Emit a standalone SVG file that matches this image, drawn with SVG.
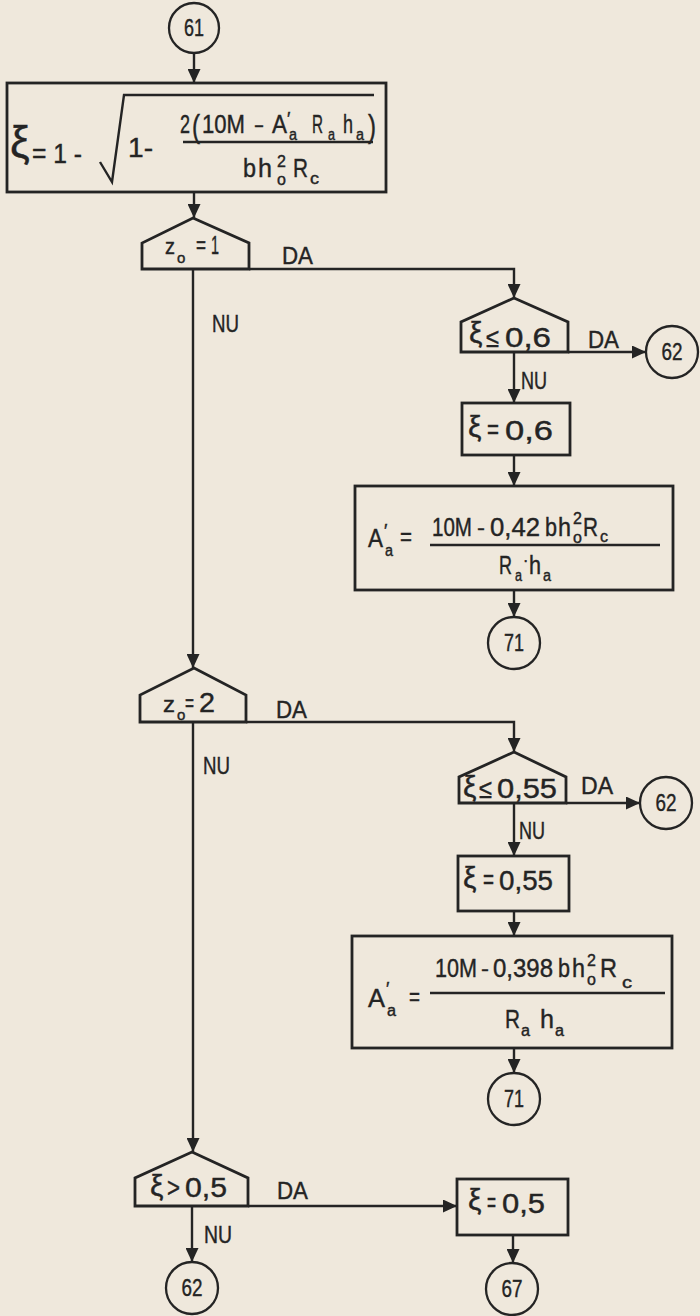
<svg xmlns="http://www.w3.org/2000/svg" width="700" height="1316" viewBox="0 0 700 1316">
<defs>
<style>
.bx{fill:none;stroke:#242424;stroke-width:2.8}
.ln{fill:none;stroke:#242424;stroke-width:2.4}
.cc{fill:none;stroke:#242424;stroke-width:2.3}
text{font-family:'Liberation Sans Narrow','Liberation Sans',Arial,sans-serif;fill:#242424;stroke:#242424;stroke-width:0.4}
.f{font-size:25px}
.fb{font-size:27px}
.s{font-size:16px}
.lb{font-size:24px;font-family:'Liberation Sans',Arial,sans-serif}
.cn{font-size:23px;text-anchor:middle}
.xi{font-size:30px;font-family:'Liberation Sans',Arial,sans-serif}
</style>
<marker id="ah" viewBox="0 0 14 13" refX="14" refY="6.5" markerWidth="14" markerHeight="13" markerUnits="userSpaceOnUse" orient="auto"><path d="M0,0 L14,6.5 L0,13 z" fill="#242424"/></marker>
</defs>
<rect width="700" height="1316" fill="#efe8dc"/>

<g id="connectors">
<path class="ln" d="M194,53 V83" marker-end="url(#ah)"/>
<path class="ln" d="M194,192 V218" marker-end="url(#ah)"/>
<path class="ln" d="M193,269 V668" marker-end="url(#ah)"/>
<path class="ln" d="M249,269 H514 V298" marker-end="url(#ah)"/>
<path class="ln" d="M568,352 H646" marker-end="url(#ah)"/>
<path class="ln" d="M514,352 V403" marker-end="url(#ah)"/>
<path class="ln" d="M514,455 V486" marker-end="url(#ah)"/>
<path class="ln" d="M514,590 V617" marker-end="url(#ah)"/>
<path class="ln" d="M193,722 V1152" marker-end="url(#ah)"/>
<path class="ln" d="M246,722 H514 V752" marker-end="url(#ah)"/>
<path class="ln" d="M566,803 H640" marker-end="url(#ah)"/>
<path class="ln" d="M514,803 V856" marker-end="url(#ah)"/>
<path class="ln" d="M514,911 V936" marker-end="url(#ah)"/>
<path class="ln" d="M514,1048 V1073" marker-end="url(#ah)"/>
<path class="ln" d="M192,1206 V1262" marker-end="url(#ah)"/>
<path class="ln" d="M248,1206 H457" marker-end="url(#ah)"/>
<path class="ln" d="M513,1235 V1263" marker-end="url(#ah)"/>
<text class="lb" x="282" y="264" textLength="31" lengthAdjust="spacingAndGlyphs">DA</text>
<text class="lb" x="212" y="332" textLength="27" lengthAdjust="spacingAndGlyphs">NU</text>
<text class="lb" x="588" y="348" textLength="31" lengthAdjust="spacingAndGlyphs">DA</text>
<text class="lb" x="521" y="389" textLength="26" lengthAdjust="spacingAndGlyphs">NU</text>
<text class="lb" x="276" y="718" textLength="31" lengthAdjust="spacingAndGlyphs">DA</text>
<text class="lb" x="203" y="774" textLength="27" lengthAdjust="spacingAndGlyphs">NU</text>
<text class="lb" x="581" y="794" textLength="32" lengthAdjust="spacingAndGlyphs">DA</text>
<text class="lb" x="519" y="839" textLength="26" lengthAdjust="spacingAndGlyphs">NU</text>
<text class="lb" x="277" y="1199" textLength="31" lengthAdjust="spacingAndGlyphs">DA</text>
<text class="lb" x="204" y="1243" textLength="28" lengthAdjust="spacingAndGlyphs">NU</text>
</g>

<g id="n61">
<circle class="cc" cx="194" cy="28" r="25"/>
<text class="cn" x="194" y="36" textLength="20" lengthAdjust="spacingAndGlyphs">61</text>
</g>

<g id="p1">
<rect class="bx" x="7" y="83" width="379" height="109"/>
<text x="10" y="157" font-size="44" style="font-family:'Liberation Sans',Arial,sans-serif">ξ</text>
<text x="32" y="163" font-size="27" textLength="50" lengthAdjust="spacingAndGlyphs">= 1 -</text>
<polyline class="ln" points="100,162 112,182 124,95 374,95"/>
<text x="128" y="157" font-size="27" textLength="25" lengthAdjust="spacingAndGlyphs">1-</text>
<text class="f" x="180" y="133" textLength="10" lengthAdjust="spacingAndGlyphs">2</text>
<text x="192" y="137" font-size="32" textLength="8" lengthAdjust="spacingAndGlyphs">(</text>
<text class="f" x="202" y="133" textLength="43" lengthAdjust="spacingAndGlyphs">10M</text>
<text x="255" y="132" font-size="22" textLength="8" lengthAdjust="spacingAndGlyphs">–</text>
<text class="f" x="272" y="133" textLength="15" lengthAdjust="spacingAndGlyphs">A</text>
<text x="287" y="125" font-size="18">′</text>
<text class="s" x="289" y="140" textLength="8" lengthAdjust="spacingAndGlyphs">a</text>
<text class="f" x="312" y="133" textLength="11" lengthAdjust="spacingAndGlyphs">R</text>
<text class="s" x="328" y="140" textLength="7" lengthAdjust="spacingAndGlyphs">a</text>
<text class="f" x="343" y="133" textLength="10" lengthAdjust="spacingAndGlyphs">h</text>
<text class="s" x="356" y="140" textLength="8" lengthAdjust="spacingAndGlyphs">a</text>
<text x="368" y="137" font-size="32" textLength="8" lengthAdjust="spacingAndGlyphs">)</text>
<line class="ln" x1="183" y1="142" x2="373" y2="142"/>
<text class="f" x="243" y="177" textLength="13" lengthAdjust="spacingAndGlyphs">b</text>
<text class="f" x="258" y="177" textLength="14" lengthAdjust="spacingAndGlyphs">h</text>
<text class="s" x="277" y="167">2</text>
<text class="s" x="277" y="185">o</text>
<text class="f" x="293" y="177" textLength="15" lengthAdjust="spacingAndGlyphs">R</text>
<text class="s" x="310" y="184" textLength="9" lengthAdjust="spacingAndGlyphs">c</text>
</g>

<g id="d1">
<polygon class="bx" points="193,218 249,243 249,269 142,269 142,243"/>
<text x="165" y="254" font-size="22" textLength="10" lengthAdjust="spacingAndGlyphs">z</text>
<text x="177" y="263" font-size="15">o</text>
<text x="196" y="253" font-size="24" textLength="10" lengthAdjust="spacingAndGlyphs">=</text>
<text x="211" y="254" font-size="26" textLength="8" lengthAdjust="spacingAndGlyphs">1</text>
</g>

<g id="d2">
<polygon class="bx" points="514,298 568,322 568,352 461,352 461,322"/>
<text class="xi" x="469" y="343">ξ</text>
<text class="fb" x="486" y="347" textLength="13" lengthAdjust="spacingAndGlyphs">≤</text>
<text class="fb" x="505" y="347" textLength="46" lengthAdjust="spacingAndGlyphs">0,6</text>
</g>

<g id="n62a">
<circle class="cc" cx="672" cy="352" r="26"/>
<text class="cn" x="672" y="360" textLength="21" lengthAdjust="spacingAndGlyphs">62</text>
</g>

<g id="p2">
<rect class="bx" x="462" y="403" width="108" height="52"/>
<text class="xi" x="468" y="437">ξ</text>
<text class="fb" x="487" y="439" textLength="12" lengthAdjust="spacingAndGlyphs">=</text>
<text class="fb" x="505" y="440" textLength="48" lengthAdjust="spacingAndGlyphs">0,6</text>
</g>

<g id="p3">
<rect class="bx" x="355" y="486" width="318" height="104"/>
<text class="f" x="368" y="547" textLength="15" lengthAdjust="spacingAndGlyphs">A</text>
<text x="384" y="537" font-size="18">′</text>
<text class="s" x="385" y="556" textLength="8" lengthAdjust="spacingAndGlyphs">a</text>
<text class="f" x="400" y="545" textLength="12" lengthAdjust="spacingAndGlyphs">=</text>
<text class="f" x="432" y="536" textLength="40" lengthAdjust="spacingAndGlyphs">10M</text>
<text x="478" y="535" font-size="22" textLength="6" lengthAdjust="spacingAndGlyphs">–</text>
<text class="f" x="490" y="536" textLength="50" lengthAdjust="spacingAndGlyphs">0,42</text>
<text class="f" x="545" y="536" textLength="12" lengthAdjust="spacingAndGlyphs">b</text>
<text class="f" x="558" y="536" textLength="13" lengthAdjust="spacingAndGlyphs">h</text>
<text class="s" x="573" y="524">2</text>
<text class="s" x="573" y="543">o</text>
<text class="f" x="583" y="536" textLength="15" lengthAdjust="spacingAndGlyphs">R</text>
<text class="s" x="600" y="542" textLength="8" lengthAdjust="spacingAndGlyphs">c</text>
<line class="ln" x1="430" y1="545" x2="660" y2="545"/>
<text class="f" x="499" y="574" textLength="13" lengthAdjust="spacingAndGlyphs">R</text>
<text class="s" x="515" y="581" textLength="7" lengthAdjust="spacingAndGlyphs">a</text>
<text x="523" y="566" font-size="16">·</text>
<text class="f" x="529" y="574" textLength="12" lengthAdjust="spacingAndGlyphs">h</text>
<text class="s" x="543" y="581" textLength="8" lengthAdjust="spacingAndGlyphs">a</text>
</g>

<g id="n71a">
<circle class="cc" cx="514" cy="643" r="26"/>
<text class="cn" x="514" y="651" textLength="20" lengthAdjust="spacingAndGlyphs">71</text>
</g>

<g id="d3">
<polygon class="bx" points="194,668 246,695 246,722 140,722 140,695"/>
<text x="163" y="712" font-size="22" textLength="12" lengthAdjust="spacingAndGlyphs">z</text>
<text x="177" y="720" font-size="15">o</text>
<text x="185" y="711" font-size="24" textLength="9" lengthAdjust="spacingAndGlyphs">=</text>
<text x="199" y="712" font-size="27" textLength="16" lengthAdjust="spacingAndGlyphs">2</text>
</g>

<g id="d4">
<polygon class="bx" points="514,752 566,777 566,803 459,803 459,777"/>
<text class="xi" x="463" y="797">ξ</text>
<text class="fb" x="479" y="798" textLength="13" lengthAdjust="spacingAndGlyphs">≤</text>
<text class="fb" x="497" y="798" textLength="60" lengthAdjust="spacingAndGlyphs">0,55</text>
</g>

<g id="n62b">
<circle class="cc" cx="666" cy="803" r="26"/>
<text class="cn" x="666" y="811" textLength="21" lengthAdjust="spacingAndGlyphs">62</text>
</g>

<g id="p4">
<rect class="bx" x="458" y="856" width="111" height="55"/>
<text class="xi" x="463" y="888">ξ</text>
<text class="fb" x="483" y="889" textLength="11" lengthAdjust="spacingAndGlyphs">=</text>
<text class="fb" x="499" y="890" textLength="54" lengthAdjust="spacingAndGlyphs">0,55</text>
</g>

<g id="p5">
<rect class="bx" x="352" y="936" width="320" height="112"/>
<text class="f" x="368" y="1007" textLength="17" lengthAdjust="spacingAndGlyphs">A</text>
<text x="386" y="995" font-size="18">′</text>
<text class="s" x="387" y="1016" textLength="9" lengthAdjust="spacingAndGlyphs">a</text>
<text class="f" x="409" y="1005" textLength="11" lengthAdjust="spacingAndGlyphs">=</text>
<text class="f" x="435" y="977" textLength="42" lengthAdjust="spacingAndGlyphs">10M</text>
<text x="482" y="976" font-size="22" textLength="6" lengthAdjust="spacingAndGlyphs">–</text>
<text class="f" x="493" y="977" textLength="60" lengthAdjust="spacingAndGlyphs">0,398</text>
<text class="f" x="558" y="977" textLength="12" lengthAdjust="spacingAndGlyphs">b</text>
<text class="f" x="572" y="977" textLength="13" lengthAdjust="spacingAndGlyphs">h</text>
<text class="s" x="587" y="966">2</text>
<text class="s" x="587" y="985">o</text>
<text class="f" x="600" y="977" textLength="17" lengthAdjust="spacingAndGlyphs">R</text>
<text class="s" x="622" y="988" textLength="10" lengthAdjust="spacingAndGlyphs">c</text>
<line class="ln" x1="430" y1="993" x2="665" y2="993"/>
<text class="f" x="505" y="1028" textLength="15" lengthAdjust="spacingAndGlyphs">R</text>
<text class="s" x="521" y="1036" textLength="9" lengthAdjust="spacingAndGlyphs">a</text>
<text class="f" x="540" y="1028" textLength="14" lengthAdjust="spacingAndGlyphs">h</text>
<text class="s" x="555" y="1036" textLength="9" lengthAdjust="spacingAndGlyphs">a</text>
</g>

<g id="n71b">
<circle class="cc" cx="514" cy="1099" r="26"/>
<text class="cn" x="514" y="1107" textLength="20" lengthAdjust="spacingAndGlyphs">71</text>
</g>

<g id="d5">
<polygon class="bx" points="192,1152 248,1178 248,1206 135,1206 135,1178"/>
<text class="xi" x="150" y="1196">ξ</text>
<text class="fb" x="167" y="1197" textLength="13" lengthAdjust="spacingAndGlyphs">&gt;</text>
<text class="fb" x="185" y="1197" textLength="42" lengthAdjust="spacingAndGlyphs">0,5</text>
</g>

<g id="n62c">
<circle class="cc" cx="192" cy="1288" r="26"/>
<text class="cn" x="192" y="1296" textLength="21" lengthAdjust="spacingAndGlyphs">62</text>
</g>

<g id="p6">
<rect class="bx" x="457" y="1179" width="111" height="56"/>
<text class="xi" x="468" y="1210">ξ</text>
<text class="fb" x="487" y="1212" textLength="9" lengthAdjust="spacingAndGlyphs">=</text>
<text class="fb" x="502" y="1213" textLength="43" lengthAdjust="spacingAndGlyphs">0,5</text>
</g>

<g id="n67">
<circle class="cc" cx="512" cy="1289" r="26"/>
<text class="cn" x="512" y="1297" textLength="21" lengthAdjust="spacingAndGlyphs">67</text>
</g>
</svg>
